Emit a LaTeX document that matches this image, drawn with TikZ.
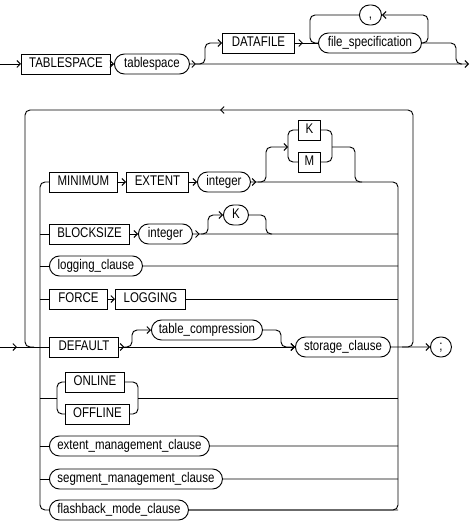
\documentclass[tikz,border=0pt]{standalone}
\usepackage{fontspec}
\newfontfamily\rrface{Liberation Sans}[FakeStretch=0.82]
\usepackage{tikz}
\usetikzlibrary{arrows.meta,shapes.misc,decorations.markings}

\tikzset{
  >={Straight Barb[length=2.6pt,width=5.2pt]},
  rail/.style={line width=0.7pt, rounded corners=3.75pt},
  kw/.style={draw, line width=0.7pt, rectangle, minimum height=15pt, inner sep=0pt,
    text height=7.6pt, text depth=2.2pt, font=\rrface\fontsize{10.5pt}{12pt}\selectfont},
  nt/.style={kw, rounded rectangle},
  bw/.style={minimum width=#1*0.75pt},
  tip after/.style={postaction={decorate}, decoration={markings, mark=at position #1 with {\arrow{>}}}},
}

\begin{document}
\begin{tikzpicture}[x=0.75pt,y=0.75pt,yscale=-1,xscale=1]
\useasboundingbox (0,0) rectangle (470,524);

% first rail: TABLESPACE
\coordinate (in1) at (0,64);
\coordinate (out1) at (469,64);
\node[kw, bw=89, anchor=west] (tskw) at (21,64) {TABLESPACE};
\node[nt, bw=75, anchor=west] (tsname) at (114,64) {tablespace};
\node[kw, bw=72, anchor=west] (datafile) at (222,43) {DATAFILE};
\node[nt, bw=103, anchor=west] (filespec) at (318,43) {file\_specification};
\node[nt, bw=22, anchor=west] (comma) at (359,15) {,};

\draw[rail, ->] (in1) -- (tskw);
\draw[rail, ->] (tskw) -- (tsname);
\draw[rail, tip after=4.5pt, ->] (tsname) -- (out1);
\draw[rail, ->] ([xshift=4.5pt]tsname.east) -| (205,43) -- (datafile);
\draw[rail, tip after=6pt] (datafile) -- (filespec);
\draw[rail, ->] (filespec.east) -| (428,15) -- (comma.east);
\draw[rail] (comma.west) -| (310,43) -- (filespec.west);
\draw[rail] (filespec.east) -| (456,64) -- (462,64);

% second rail: the repeated clauses
\coordinate (in2) at (0,347);
\coordinate (lL) at (40,0);
\coordinate (rR) at (398,0);
\coordinate (oL) at (25,110);
\coordinate (oR) at (413,110);

\node[kw, bw=68, anchor=west] (minimum) at (49,182) {MINIMUM};
\node[kw, bw=62, anchor=west] (extent) at (126,182) {EXTENT};
\node[nt, bw=53, anchor=west] (intA) at (197,182) {integer};
\node[kw, bw=22, anchor=west] (kA) at (298,130) {K};
\node[kw, bw=22, anchor=west] (mA) at (298,162) {M};

\node[kw, bw=80, anchor=west] (blocksize) at (49,234) {BLOCKSIZE};
\node[nt, bw=54, anchor=west] (intB) at (138,234) {integer};
\node[nt, bw=25, anchor=west] (kB) at (223,215) {K};

\node[nt, bw=93, anchor=west] (logging) at (49,266) {logging\_clause};

\node[kw, bw=58, anchor=west] (force) at (49,299) {FORCE};
\node[kw, bw=70, anchor=west] (forcelog) at (115,299) {LOGGING};

\node[kw, bw=69, anchor=west] (default) at (49,347) {DEFAULT};
\node[nt, bw=111, anchor=west] (tcomp) at (151,330) {table\_compression};
\node[nt, bw=95, anchor=west] (storage) at (295,347) {storage\_clause};
\node[nt, bw=21, anchor=west] (semi) at (430,347) {;};

\node[kw, bw=59, anchor=west] (online) at (65,382) {ONLINE};
\node[kw, bw=64, anchor=west] (offline) at (65,414) {OFFLINE};

\node[nt, bw=160, anchor=west] (extmgmt) at (49,446) {extent\_management\_clause};
\node[nt, bw=173, anchor=west] (segmgmt) at (49,479) {segment\_management\_clause};
\node[nt, bw=139, anchor=west] (flashback) at (49,510) {flashback\_mode\_clause};

% entry, exit and the loop back
\draw[rail, tip after=12.75pt] (in2) -- (default);
\draw[rail, ->] (storage) -- (semi);
\draw[rail, tip after=0.5] (402,347) -| (oR) -| (oL |- in2) -- (34,347);

% inner side rails
\draw[rail] (minimum.west) -| (lL |- flashback) -- (flashback.west);
\draw[rail, tip after=4pt] (intA.east) -| (rR |- flashback) -- (flashback.east);

% MINIMUM EXTENT integer [K|M]
\draw[rail, ->] (minimum) -- (extent);
\draw[rail, ->] (extent) -- (intA);
\draw[rail, ->] ([xshift=5pt]intA.east) -| (266,147) -- (288,147);
\draw[rail] (kA.west) -| (288,162) -- (mA.west);
\draw[rail] (kA.east) -| (332,162) -- (mA.east);
\draw[rail] (332,147) -| (355,182) -- (362,182);

% BLOCKSIZE integer [K]
\draw[rail] (lL |- blocksize) -- (blocksize);
\draw[rail, ->] (blocksize) -- (intB);
\draw[rail, tip after=5pt] (intB) -- (rR |- intB);
\draw[rail, ->] ([xshift=6pt]intB.east) -| (208,215) -- (kB);
\draw[rail] (kB.east) -| (266,234) -- (272,234);

% logging_clause
\draw[rail] (lL |- logging) -- (logging);
\draw[rail] (logging) -- (rR |- logging);

% FORCE LOGGING
\draw[rail] (lL |- force) -- (force);
\draw[rail, ->] (force) -- (forcelog);
\draw[rail] (forcelog) -- (rR |- forcelog);

% DEFAULT [table_compression] storage_clause
\draw[rail, tip after=4pt, ->] (default) -- (storage);
\draw[rail, ->] ([xshift=4pt]default.east) -| (132,330) -- (tcomp);
\draw[rail, ->] (tcomp.east) -| (281,347) -- (storage);

% ONLINE | OFFLINE
\draw[rail] (lL |- 0,398) -- (57,398);
\draw[rail] (online.west) -| (57,414) -- (offline.west);
\draw[rail] (online.east) -| (138,414) -- (offline.east);
\draw[rail] (138,398) -- (rR |- 0,398);

% the clause ovals
\draw[rail] (lL |- extmgmt) -- (extmgmt);
\draw[rail] (extmgmt) -- (rR |- extmgmt);
\draw[rail] (lL |- segmgmt) -- (segmgmt);
\draw[rail] (segmgmt) -- (rR |- segmgmt);
\draw[rail] (flashback) -- (rR |- flashback);

\end{tikzpicture}
\end{document}
